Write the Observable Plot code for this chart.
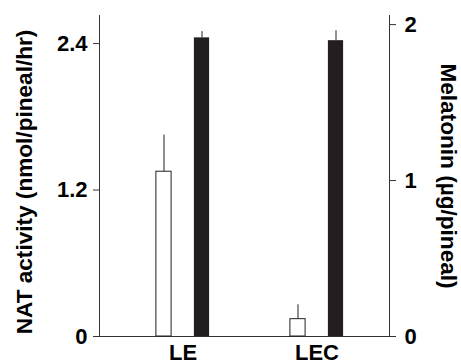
<!DOCTYPE html>
<html>
<head>
<meta charset="utf-8">
<script src="https://cdn.jsdelivr.net/npm/d3@7"></script>
<script src="https://cdn.jsdelivr.net/npm/@observablehq/plot@0.6"></script>
<style>
  html, body { margin: 0; padding: 0; background: #fff; }
</style>
</head>
<body>
<div id="chart"></div>
<script>
// Data
const groups = ["LE", "LEC"];
const natActivity = [1.35, 0.142];     // nmol/pineal/hr (left axis, white bars)
const natError = [0.30, 0.118];
const melatonin = [1.915, 1.897];      // µg/pineal (right axis, black bars)
const melError = [0.04, 0.063];
const leftTicks = [0, 1.2, 2.4];
const rightTicks = [0, 1, 2];

// Right axis units expressed in left-axis units
const ratio = 1.2777;

const rows = [];
groups.forEach((g, i) => {
  rows.push({group: g, series: "NAT", y: natActivity[i], y2: natActivity[i] + natError[i]});
  rows.push({group: g, series: "Mel", y: melatonin[i] * ratio, y2: (melatonin[i] + melError[i]) * ratio});
});
const nat = rows.filter(d => d.series === "NAT");
const mel = rows.filter(d => d.series === "Mel");

const ink = "#231f20";
const axisInk = "#333";
const off = 19;
const inset = 25.9;

const chart = Plot.plot({
  width: 461,
  height: 364,
  marginLeft: 99,
  marginRight: 72,
  marginTop: 15,
  marginBottom: 28,
  style: {fontFamily: "'Liberation Sans', Arial, Helvetica, sans-serif", fontWeight: "bold", fontSize: "22px", background: "#fff", color: "#000"},
  x: {domain: groups, paddingInner: 0.5, paddingOuter: 0.3296, align: 0.565, axis: null, label: null},
  y: {domain: [0, 2.63], axis: null, label: null},
  marks: [
    Plot.frame({anchor: "left", stroke: axisInk}),
    Plot.frame({anchor: "right", stroke: axisInk}),
    Plot.ruleY([0], {stroke: axisInk}),
    Plot.axisY(leftTicks, {anchor: "left", label: null, tickSize: 6, tickPadding: 6, stroke: axisInk, fill: "#000", tickFormat: d => d === 0 ? "0" : d.toFixed(1), fontSize: 22}),
    Plot.axisY(rightTicks.map(v => v * ratio), {anchor: "right", label: null, tickSize: 6, tickPadding: 9, stroke: axisInk, fill: "#000", tickFormat: d => String(Math.round(d / ratio)), fontSize: 22}),
    Plot.axisX(groups, {anchor: "bottom", label: null, tickSize: 0, tickPadding: 8, fontSize: 22, fill: "#000"}),
    Plot.ruleX(nat, {x: "group", y1: "y", y2: "y2", dx: -off, stroke: ink, strokeWidth: 1}),
    Plot.ruleX(mel, {x: "group", y1: "y", y2: "y2", dx: off, stroke: ink, strokeWidth: 1}),
    Plot.barY(nat, {x: "group", y: "y", dx: -off, insetLeft: inset, insetRight: inset, fill: "#fff", stroke: ink, strokeWidth: 1}),
    Plot.barY(mel, {x: "group", y: "y", dx: off, insetLeft: inset, insetRight: inset, fill: ink}),
    Plot.text(["NAT activity (nmol/pineal/hr)"], {frameAnchor: "left", textAnchor: "middle", lineAnchor: "middle", rotate: -90, dx: -75, dy: 6, fontSize: 22.6, fill: "#000"}),
    Plot.text(["Melatonin (\u00b5g/pineal)"], {frameAnchor: "right", textAnchor: "middle", lineAnchor: "middle", rotate: 90, dx: 59, dy: 0, fontSize: 22.6, fill: "#000"})
  ]
});
document.getElementById("chart").appendChild(chart);
</script>
</body>
</html>
